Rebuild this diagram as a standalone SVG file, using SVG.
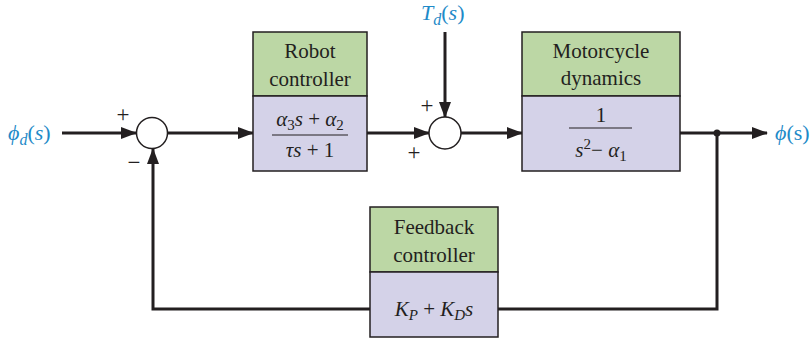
<svg xmlns="http://www.w3.org/2000/svg" width="811" height="349" viewBox="0 0 811 349" font-family="'Liberation Serif', 'Times New Roman', 'DejaVu Serif', serif">
<defs>
<marker id="ah" markerWidth="16" markerHeight="12" refX="15" refY="6" orient="auto" markerUnits="userSpaceOnUse">
<path d="M0,0 L16,6 L0,12 Z" fill="#231f20"/>
</marker>
<style>
.ln{stroke:#231f20;stroke-width:3;fill:none}
.top{fill:#bcd7a5;stroke:#231f20;stroke-width:1.5}
.bot{fill:#d4d2e8;stroke:#231f20;stroke-width:1.5}
.t{font-size:21px;fill:#231f20;text-anchor:middle}
.m{font-size:21px;fill:#231f20;text-anchor:middle;font-style:italic}
.b{font-size:22px;fill:#1e8ac8}
.sg{font-size:23px;fill:#231f20;text-anchor:middle}
.sum{fill:#fff;stroke:#231f20;stroke-width:1.5}
</style>
</defs>
<rect width="811" height="349" fill="#fff"/>
<g id="connectors">
<line class="ln" x1="62" y1="133" x2="136" y2="133" marker-end="url(#ah)"/>
<line class="ln" x1="168" y1="133" x2="253" y2="133" marker-end="url(#ah)"/>
<line class="ln" x1="367" y1="133" x2="429" y2="133" marker-end="url(#ah)"/>
<line class="ln" x1="445" y1="32" x2="445" y2="117" marker-end="url(#ah)"/>
<line class="ln" x1="461" y1="133" x2="522" y2="133" marker-end="url(#ah)"/>
<line class="ln" x1="680" y1="133" x2="767" y2="133" marker-end="url(#ah)"/>
<polyline class="ln" points="717,133 717,309 498,309"/>
<polyline class="ln" points="370,309 153,309 153,149" marker-end="url(#ah)"/>
<circle cx="717" cy="133" r="3.5" fill="#231f20"/>
</g>
<g id="sum1">
<circle class="sum" cx="152" cy="133" r="15.5"/>
<text class="sg" x="123" y="122" font-family="Liberation Serif">+</text>
<text class="sg" x="134" y="170" font-family="Liberation Serif">−</text>
</g>
<g id="sum2">
<circle class="sum" cx="445" cy="133" r="16"/>
<text class="sg" x="427" y="113" font-family="Liberation Serif">+</text>
<text class="sg" x="414" y="160" font-family="Liberation Serif">+</text>
</g>
<g id="input">
<text class="b" x="8" y="140" font-family="Liberation Serif"><tspan font-style="italic">ϕ</tspan><tspan font-style="italic" font-size="16" dy="5">d</tspan><tspan dy="-5">(</tspan><tspan font-style="italic">s</tspan>)</text>
</g>
<g id="disturbance">
<text class="b" x="421" y="20" font-family="Liberation Serif"><tspan font-style="italic">T</tspan><tspan font-style="italic" font-size="16" dy="5">d</tspan><tspan dy="-5">(</tspan><tspan font-style="italic">s</tspan>)</text>
</g>
<g id="output">
<text class="b" x="775" y="140" font-family="Liberation Serif"><tspan font-style="italic">ϕ</tspan>(s)</text>
</g>
<g id="robot-controller">
<rect class="top" x="253" y="32" width="114" height="64"/>
<rect class="bot" x="253" y="96" width="114" height="75"/>
<text class="t" x="310" y="58" font-family="Liberation Serif">Robot</text>
<text class="t" x="310" y="86" font-family="Liberation Serif">controller</text>
<text class="m" x="310" y="126" font-family="Liberation Serif">α<tspan font-size="15" font-style="normal" dy="4">3</tspan><tspan dy="-4">s</tspan><tspan font-style="normal"> + </tspan>α<tspan font-size="15" font-style="normal" dy="4">2</tspan></text>
<line x1="272" y1="135" x2="348" y2="135" stroke="#231f20" stroke-width="1"/>
<text class="m" x="310" y="157" font-family="Liberation Serif">τs<tspan font-style="normal"> + 1</tspan></text>
</g>
<g id="motorcycle-dynamics">
<rect class="top" x="522" y="32" width="158" height="64"/>
<rect class="bot" x="522" y="96" width="158" height="75"/>
<text class="t" x="601" y="58" font-family="Liberation Serif">Motorcycle</text>
<text class="t" x="601" y="85" font-family="Liberation Serif">dynamics</text>
<text class="t" x="601" y="122" font-family="Liberation Serif">1</text>
<line x1="569" y1="128" x2="632" y2="128" stroke="#231f20" stroke-width="1"/>
<text class="m" x="601" y="157" font-family="Liberation Serif">s<tspan font-size="15" font-style="normal" dy="-8">2</tspan><tspan font-style="normal" dy="8">− </tspan>α<tspan font-size="15" font-style="normal" dy="4">1</tspan></text>
</g>
<g id="feedback-controller">
<rect class="top" x="370" y="207" width="128" height="65"/>
<rect class="bot" x="370" y="272" width="128" height="65"/>
<text class="t" x="434" y="234" font-family="Liberation Serif">Feedback</text>
<text class="t" x="434" y="262" font-family="Liberation Serif">controller</text>
<text class="m" x="434" y="316" font-family="Liberation Serif">K<tspan font-size="15" dy="4">P</tspan><tspan font-style="normal" dy="-4"> + </tspan>K<tspan font-size="15" dy="4">D</tspan><tspan dy="-4">s</tspan></text>
</g>
</svg>
